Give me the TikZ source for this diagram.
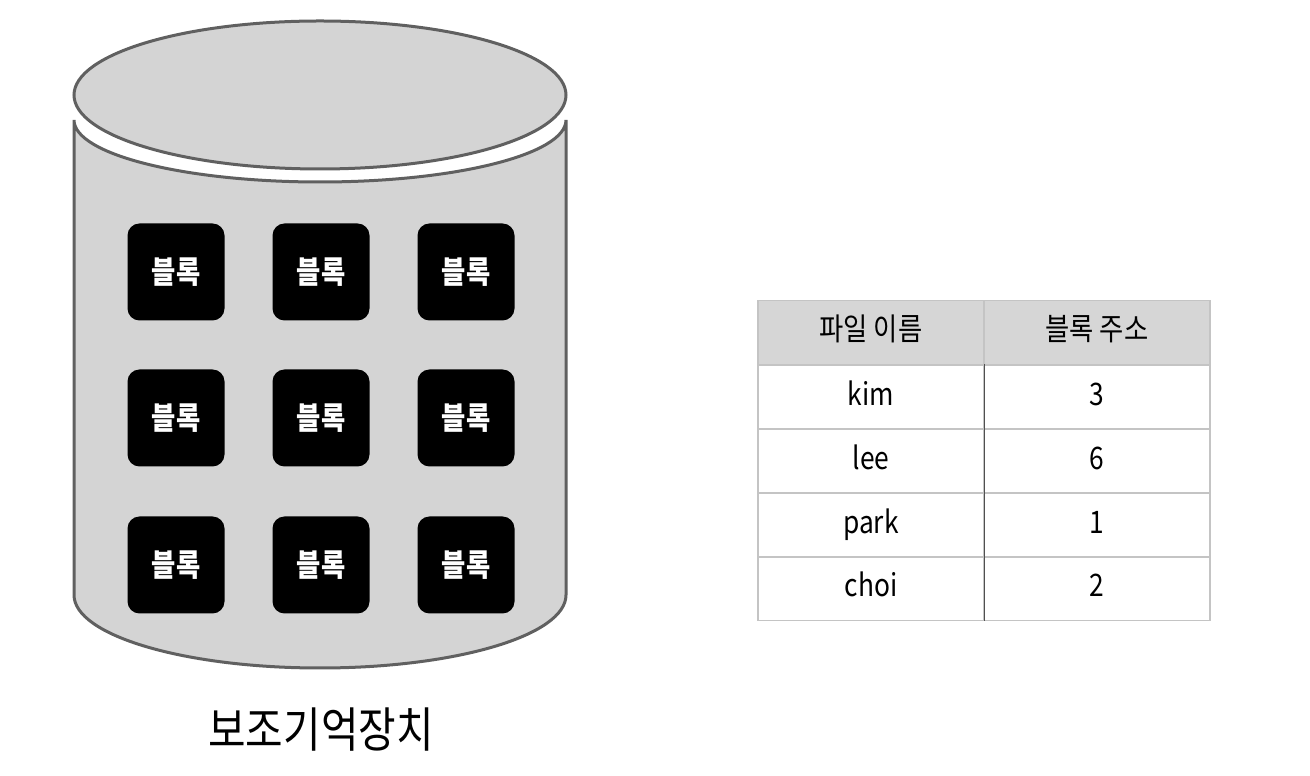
\documentclass[tikz,border=0pt]{standalone}
\usepackage{fontspec}
\newfontfamily\krfont[FakeStretch=0.85]{Noto Sans CJK KR}
\definecolor{diskfill}{HTML}{D4D4D4}
\definecolor{diskline}{HTML}{606060}
\definecolor{headfill}{HTML}{D6D6D6}
\definecolor{gridline}{HTML}{C4C4C4}
\definecolor{divline}{HTML}{505050}

\begin{document}
\begin{tikzpicture}[x=1pt, y=1pt,
  disk/.style={fill=diskfill, draw=diskline, line width=3pt},
  blockbox/.style={fill=black, rounded corners=12pt, minimum width=97pt, minimum height=97pt,
    inner sep=0pt, text=white, font=\krfont\bfseries\fontsize{31}{31}\selectfont},
  cell/.style={draw=gridline, line width=1.2pt, minimum width=226pt, minimum height=64pt,
    inner sep=0pt, text height=23pt, text depth=6pt, font=\krfont\fontsize{31}{31}\selectfont},
  divider/.style={draw=divline, line width=1.5pt}]
  \useasboundingbox (0,0) rectangle (1310,776);

  % disk body and top
  \draw[disk] (74,656) -- (74,181) arc[start angle=180, end angle=360, x radius=246pt, y radius=73pt]
    -- (566,656) arc[start angle=0, end angle=-180, x radius=246pt, y radius=62pt] -- cycle;
  \draw[disk] (320,681) ellipse[x radius=246pt, y radius=74pt];

  % blocks
  \foreach \r/\y in {1/504, 2/358, 3/211}
    \foreach \c/\x in {1/176, 2/321, 3/466}
      \node[blockbox] (blk\r\c) at (\x,\y) {블록};

  \node[font=\krfont\fontsize{48}{48}\selectfont] (disklabel) at (321,46) {보조기억장치};

  % table
  \node[cell, fill=headfill] (hname) at (871,443.5) {파일 이름};
  \node[cell, fill=headfill] (haddr) at (1097,443.5) {블록 주소};
  \foreach \n/\a/\y in {kim/3/379, lee/6/315, park/1/251, choi/2/187.5} {
    \node[cell] (name-\n) at (871,\y) {\n};
    \node[cell] (addr-\n) at (1097,\y) {\a};
  }
  \draw[divider] (name-kim.north east) -- (name-choi.south east);
\end{tikzpicture}
\end{document}
